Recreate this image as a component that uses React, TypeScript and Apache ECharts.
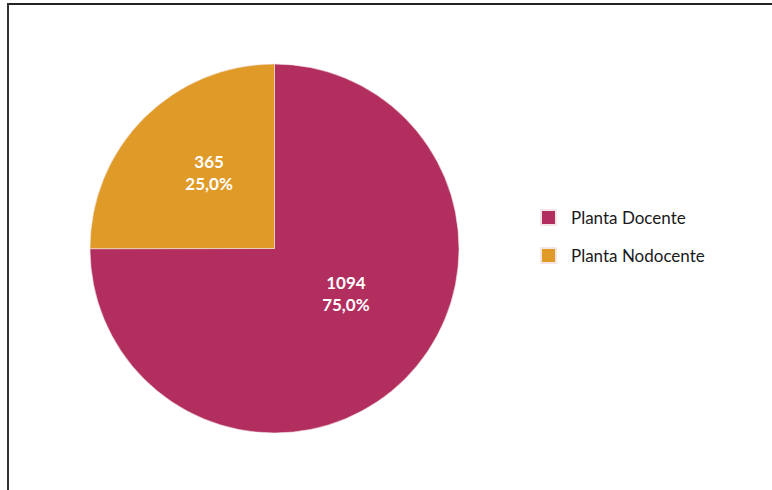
import React, { useEffect, useRef } from "react";
import * as echarts from "echarts";

const categories = ["Planta Docente", "Planta Nodocente"];
const values = [1094, 365];
const colors = ["#B12E5E", "#E09A28"];
const labelOffsets = [
  [4, -22],
  [2, -9],
];

export default function App() {
  const ref = useRef<HTMLDivElement>(null);
  useEffect(() => {
    if (!ref.current) return;
    const chart = echarts.init(ref.current, null, { renderer: "svg" });
    const total = values.reduce((a, b) => a + b, 0);
    chart.setOption({
      animation: false,
      backgroundColor: "#ffffff",
      graphic: [
        {
          type: "line",
          shape: { x1: 8, y1: 4, x2: 772, y2: 4 },
          style: { stroke: "#222", lineWidth: 2 },
        },
        {
          type: "line",
          shape: { x1: 8, y1: 3, x2: 8, y2: 490 },
          style: { stroke: "#333", lineWidth: 2 },
        },
      ],
      legend: {
        orient: "vertical",
        left: 540,
        top: 209,
        padding: 0,
        itemWidth: 15,
        itemHeight: 15,
        itemGap: 21,
        icon: "rect",
        textStyle: {
          fontFamily: "Lato",
          fontSize: 17,
          color: "#1a1a1a",
          padding: [0, 0, 0, 10],
        },
        data: categories,
      },
      series: [
        {
          type: "pie",
          center: [274.5, 248.5],
          radius: [0, 184.5],
          startAngle: 90,
          clockwise: true,
          itemStyle: { borderColor: "#f4e6e6", borderWidth: 0.6 },
          label: {
            show: true,
            position: "inside",
            fontFamily: "Lato",
            fontWeight: "bold",
            fontSize: 17,
            lineHeight: 22,
            color: "#ffffff",
            formatter: (p: any) =>
              p.value + "\n" + ((p.value / total) * 100).toFixed(1).replace(".", ",") + "%",
          },
          labelLine: { show: false },
          emphasis: { disabled: true },
          data: categories.map((name, i) => ({
            name,
            value: values[i],
            itemStyle: { color: colors[i] },
            label: { offset: labelOffsets[i] },
          })),
        },
      ],
    });
    return () => chart.dispose();
  }, []);
  return (
    <div
      ref={ref}
      style={{ position: "absolute", left: 0, top: 0, width: 772, height: 490 }}
    />
  );
}
